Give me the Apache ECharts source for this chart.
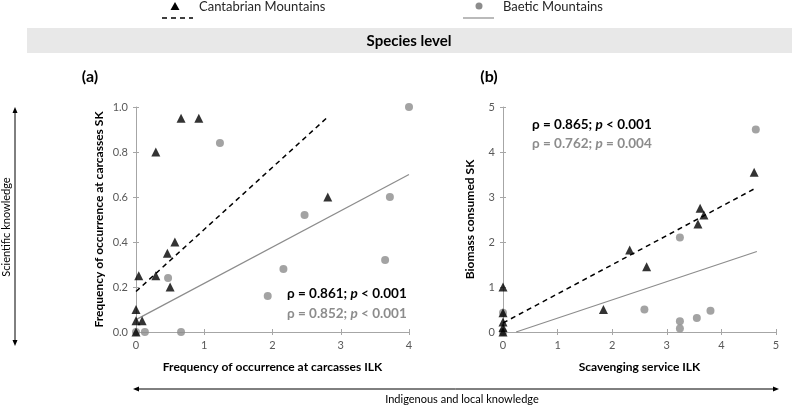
<!DOCTYPE html>
<html><head><meta charset="utf-8">
<script src="https://cdn.jsdelivr.net/npm/echarts@6/dist/echarts.min.js"></script>
<style>html,body{margin:0;padding:0;background:#fff}#c{width:793px;height:406px}</style>
</head><body><div id="c"></div>
<script>
// ---- data ----
const cantabrianA = [[0.66,0.95],[0.92,0.95],[0.29,0.80],[2.81,0.60],[0.57,0.40],[0.46,0.35],[0.29,0.25],[0.04,0.25],[0.50,0.20],[0,0.10],[0,0.05],[0.09,0.05],[0,0]];
const baeticA = [[4.0,1.0],[1.23,0.84],[3.72,0.60],[2.47,0.52],[3.65,0.32],[2.16,0.28],[0.47,0.24],[1.93,0.16],[0.13,0],[0.66,0],[0,0]];
const cantabrianB = [[4.60,3.55],[3.61,2.75],[3.68,2.60],[3.57,2.40],[2.32,1.82],[2.63,1.45],[1.84,0.50],[0,1.0],[0,0.43],[0,0.22],[0,0.10],[0,0]];
const baeticB = [[4.63,4.5],[3.24,2.1],[2.59,0.5],[3.80,0.47],[3.55,0.31],[3.24,0.24],[3.24,0.08],[0,0.43],[0,0]];
const trendCantA = [[0,0.18],[2.79,0.95]];
const trendBaeA = [[0,0.055],[4,0.70]];
const trendCantB = [[0,0.20],[4.6,3.18]];
const trendBaeB = [[0.24,0],[4.65,1.79]];
const statsA = [['0.861','<','0.001'],['0.852','<','0.001']];
const statsB = [['0.865','<','0.001'],['0.762','=','0.004']];
const legendNames = ['Cantabrian Mountains','Baetic Mountains'];

const FONT = 'Lato';
const AX = '#a6a6a6', LBL = '#595959', GREY = '#8c8c8c';
const chart = echarts.init(document.getElementById('c'));

function statText(s){ return '{b|ρ = '+s[0]+'; }{i|p}{b| '+s[1]+' '+s[2]+'}'; }
function rich(color){ return {b:{fontFamily:FONT,fontWeight:'bold',fontSize:13.5,fill:color},
                              i:{fontFamily:FONT,fontWeight:'bold',fontStyle:'italic',fontSize:13.5,fill:color}}; }

function mainX(grid, max, name){
  return {type:'value', gridIndex:grid, min:0, max:max, interval:1,
    axisLine:{show:true,lineStyle:{color:AX,width:1}},
    axisTick:{show:true,length:3,lineStyle:{color:AX}},
    splitLine:{show:false},
    axisLabel:{color:LBL,fontFamily:FONT,fontSize:11,margin:8},
    name:name, nameLocation:'middle', nameGap:29,
    nameTextStyle:{fontFamily:FONT,fontWeight:'bold',fontSize:12,color:'#000'}};
}
function innerX(grid, max){
  return {type:'value', gridIndex:grid, min:0, max:max, interval:1, position:'bottom',
    axisLine:{show:false}, axisTick:{show:true,inside:true,length:3,lineStyle:{color:AX}},
    axisLabel:{show:false}, splitLine:{show:false}};
}
function mainY(grid, max, interval, dec, name, gap){
  return {type:'value', gridIndex:grid, min:0, max:max, interval:interval,
    axisLine:{show:true,lineStyle:{color:AX,width:1}},
    axisTick:{show:true,length:3,lineStyle:{color:AX}},
    splitLine:{show:false},
    axisLabel:{color:LBL,fontFamily:FONT,fontSize:11,margin:8,formatter:v=>v.toFixed(dec)},
    name:name, nameLocation:'middle', nameGap:gap,
    nameTextStyle:{fontFamily:FONT,fontWeight:'bold',fontSize:12,color:'#000'}};
}
function innerY(grid, max, interval){
  return {type:'value', gridIndex:grid, min:0, max:max, interval:interval, position:'left',
    axisLine:{show:false}, axisTick:{show:true,inside:true,length:3,lineStyle:{color:AX}},
    axisLabel:{show:false}, splitLine:{show:false}};
}
function scatter(data, xi, yi, tri){
  return {type:'scatter', xAxisIndex:xi, yAxisIndex:yi, data:data,
    symbol: tri ? 'triangle' : 'circle', symbolSize: tri ? 9 : 8,
    itemStyle:{color: tri ? '#000' : GREY}, z: tri ? 4 : 3, silent:true};
}
function trend(data, xi, yi, dashed){
  return {type:'line', xAxisIndex:xi, yAxisIndex:yi, data:data, showSymbol:false, symbol:'none',
    lineStyle:{color: dashed ? '#000' : GREY, width: dashed ? 1.5 : 1.2, type: dashed ? [5,4] : 'solid'},
    z:2, silent:true};
}

const option = {
  animation:false,
  grid:[{left:136, top:107, width:273, height:225},{left:503, top:107, width:273, height:225}],
  xAxis:[mainX(0,4,'Frequency of occurrence at carcasses ILK'), mainX(1,5,'Scavenging service ILK'), innerX(0,4), innerX(1,5)],
  yAxis:[mainY(0,1,0.2,1,'Frequency of occurrence at carcasses SK',31), mainY(1,5,1,0,'Biomass consumed SK',27), innerY(0,1,0.2), innerY(1,5,1)],
  series:[
    trend(trendBaeA,0,0,false), trend(trendCantA,0,0,true),
    scatter(baeticA,0,0,false), scatter(cantabrianA,0,0,true),
    trend(trendBaeB,1,1,false), trend(trendCantB,1,1,true),
    scatter(baeticB,1,1,false), scatter(cantabrianB,1,1,true)
  ],
  graphic:[
    // legend
    {type:'polygon', shape:{points:[[175,2],[179.5,10],[170.5,10]]}, style:{fill:'#000'}},
    {type:'line', shape:{x1:162,y1:18,x2:193,y2:18}, style:{stroke:'#000',lineWidth:1.5,lineDash:[5,4]}},
    {type:'text', left:199, top:0, style:{text:legendNames[0], fontFamily:FONT, fontSize:13, fill:'#262626'}},
    {type:'circle', shape:{cx:479,cy:6,r:3.5}, style:{fill:GREY}},
    {type:'line', shape:{x1:463,y1:18,x2:494,y2:18}, style:{stroke:GREY,lineWidth:1.2}},
    {type:'text', left:503, top:0, style:{text:legendNames[1], fontFamily:FONT, fontSize:13, fill:'#262626'}},
    // band
    {type:'rect', shape:{x:27,y:28,width:765,height:25}, style:{fill:'#e8e8e8'}, z:-1},
    {type:'text', x:409, y:41, style:{text:'Species level', fontFamily:FONT, fontWeight:'bold', fontSize:15, fill:'#000', align:'center', verticalAlign:'middle'}},
    // panel labels
    {type:'text', x:90, y:77, style:{text:'(a)', fontFamily:FONT, fontWeight:'bold', fontSize:16, fill:'#000', align:'center', verticalAlign:'middle'}},
    {type:'text', x:489, y:77, style:{text:'(b)', fontFamily:FONT, fontWeight:'bold', fontSize:16, fill:'#000', align:'center', verticalAlign:'middle'}},
    // stats
    {type:'text', x:287, y:294, style:{text:statText(statsA[0]), rich:rich('#000'), verticalAlign:'middle'}},
    {type:'text', x:287, y:314, style:{text:statText(statsA[1]), rich:rich(GREY), verticalAlign:'middle'}},
    {type:'text', x:532, y:125, style:{text:statText(statsB[0]), rich:rich('#000'), verticalAlign:'middle'}},
    {type:'text', x:532, y:144, style:{text:statText(statsB[1]), rich:rich(GREY), verticalAlign:'middle'}},
    // vertical arrow
    {type:'line', shape:{x1:15,y1:110,x2:15,y2:343}, style:{stroke:'#000',lineWidth:1}},
    {type:'polygon', shape:{points:[[15,107],[17.5,113],[12.5,113]]}, style:{fill:'#000'}},
    {type:'polygon', shape:{points:[[15,346],[17.5,340],[12.5,340]]}, style:{fill:'#000'}},
    {type:'text', x:6, y:227, rotation:Math.PI/2, style:{text:'Scientific knowledge', fontFamily:FONT, fontSize:11, fill:'#000', align:'center', verticalAlign:'middle'}},
    // horizontal arrow
    {type:'line', shape:{x1:136,y1:389,x2:775,y2:389}, style:{stroke:'#000',lineWidth:1}},
    {type:'polygon', shape:{points:[[133,389],[139,386.5],[139,391.5]]}, style:{fill:'#000'}},
    {type:'polygon', shape:{points:[[779,389],[773,386.5],[773,391.5]]}, style:{fill:'#000'}},
    {type:'text', x:462, y:399, style:{text:'Indigenous and local knowledge', fontFamily:FONT, fontSize:11, fill:'#000', align:'center', verticalAlign:'middle'}}
  ]
};
chart.setOption(option);
</script></body></html>
